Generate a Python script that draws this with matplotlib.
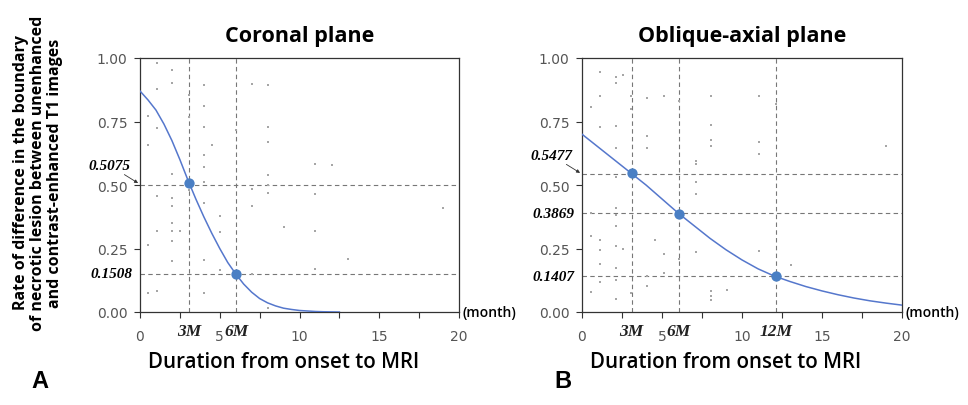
import matplotlib
matplotlib.use("Agg")
import matplotlib.pyplot as plt

# fitted curves
cor_x = [0, 0.5, 1, 1.5, 2, 2.5, 3, 3.5, 4, 4.5, 5, 5.5, 6, 6.5, 7, 7.5,
         8, 8.5, 9, 9.5, 10, 10.5, 11, 11.5, 12, 12.5]
cor_y = [0.870, 0.835, 0.795, 0.74, 0.675, 0.60, 0.52, 0.445, 0.375, 0.31,
         0.25, 0.195, 0.15, 0.11, 0.078, 0.053, 0.036, 0.024, 0.015, 0.010,
         0.006, 0.004, 0.002, 0.001, 0.0005, 0.0]
obl_x = [0, 1, 2, 3, 4, 5, 6, 7, 8, 9, 10, 11, 12, 13, 14, 15, 16, 17, 18, 19, 20]
obl_y = [0.70, 0.65, 0.60, 0.55, 0.50, 0.445, 0.39, 0.34, 0.29, 0.245, 0.205,
         0.17, 0.142, 0.12, 0.10, 0.083, 0.068, 0.055, 0.044, 0.035, 0.027]

# raw observations (gray dots)
cor_pts_x = [1.04, 2.03, 2.03, 1.04, 3.09, 4.0, 4.0, 3.1, 4.0, 4.5, 4.0, 4.0,
             0.48, 1.04, 0.48, 2.03, 1.04, 2.03, 2.03, 4.0, 4.0, 3.09, 5.0, 2.03,
             2.03, 2.5, 1.04, 5.0, 2.03, 0.48, 4.0, 2.03, 5.0, 0.48, 1.04, 4.0,
             7.04, 8.0, 8.0, 8.0, 6.0, 7.04, 8.0, 8.0, 8.0, 7.04, 9.04, 11.0,
             12.05, 11.0, 11.0, 11.0, 13.05, 7.04, 8.0, 19.0]
cor_pts_y = [0.98, 0.954, 0.90, 0.878, 0.854, 0.894, 0.812, 0.766, 0.727, 0.657,
             0.618, 0.569, 0.773, 0.723, 0.657, 0.543, 0.457, 0.447, 0.418, 0.43,
             0.51, 0.48, 0.376, 0.35, 0.319, 0.319, 0.319, 0.315, 0.28, 0.264,
             0.205, 0.20, 0.166, 0.076, 0.083, 0.076, 0.899, 0.894, 0.727, 0.668,
             0.717, 0.486, 0.539, 0.50, 0.47, 0.418, 0.335, 0.582, 0.578, 0.463,
             0.319, 0.171, 0.21, 0.148, 0.017, 0.411]
obl_pts_x = [1.1, 2.1, 2.1, 2.56, 1.15, 0.58, 1.1, 2.1, 2.1, 3.08, 3.08, 4.08,
             5.1, 6.06, 4.08, 4.08, 8.04, 8.04, 8.04, 8.04, 7.1, 7.1, 7.1, 7.1,
             11.06, 11.06, 11.06, 12.1, 19.0, 2.1, 0.58, 2.1, 2.1, 2.1, 0.58, 1.1,
             1.1, 2.1, 2.56, 4.54, 5.1, 7.1, 11.06, 13.08, 1.1, 2.1, 1.1, 2.1,
             4.08, 4.08, 5.1, 6.06, 0.58, 2.1, 8.04, 8.04, 8.04, 9.08, 3.08]
obl_pts_y = [0.943, 0.924, 0.90, 0.934, 0.849, 0.806, 0.727, 0.731, 0.644, 0.80,
             0.85, 0.842, 0.849, 0.832, 0.691, 0.644, 0.849, 0.737, 0.678, 0.652,
             0.595, 0.582, 0.512, 0.464, 0.849, 0.671, 0.622, 0.819, 0.652, 0.53,
             0.389, 0.411, 0.381, 0.339, 0.30, 0.284, 0.244, 0.26, 0.25, 0.284,
             0.227, 0.237, 0.24, 0.184, 0.188, 0.175, 0.118, 0.126, 0.142, 0.102,
             0.155, 0.208, 0.079, 0.05, 0.083, 0.063, 0.046, 0.087, 0.076]

# time points and predicted rates
cor_tx = [3.1, 6.05]
cor_ty = [0.5075, 0.1508]
cor_tlab = ["3M", "6M"]
obl_tx = [3.1, 6.05, 12.1]
obl_ty = [0.5477, 0.3869, 0.1407]
obl_tlab = ["3M", "6M", "12M"]

SANS = ["Open Sans", "DejaVu Sans"]
SERIF = ["Liberation Serif", "DejaVu Serif"]
CURVE = "#5577cc"
DOT = "#4a7fc4"

fig = plt.figure(figsize=(9.68, 4.06), dpi=100)


def panel(rect, title, cx, cy, px, py, tx, ty, tlab, hline_y, arrow_idx):
    ax = fig.add_axes(rect)
    ax.set_xlim(0, 20)
    ax.set_ylim(0, 1)
    ax.scatter(px, py, s=3.5, color="#a6a6a6", marker="s", lw=0, zorder=2)
    for x in tx:
        ax.axvline(x, color="#777777", ls=(0, (4, 3)), lw=0.8, zorder=1)
    for y in hline_y:
        ax.axhline(y, color="#777777", ls=(0, (4, 3)), lw=0.8, zorder=1)
    ax.plot(cx, cy, color=CURVE, lw=1.1, zorder=3)
    ax.scatter(tx, ty, s=55, color=DOT, zorder=4, lw=0)

    ax.set_xticks([0, 5, 10, 15, 20])
    ax.set_xticks([2.5, 7.5, 12.5, 17.5], minor=True)
    ax.set_yticks([0, 0.25, 0.5, 0.75, 1.0])
    ax.set_yticklabels(["0.00", "0.25", "0.50", "0.75", "1.00"])
    ax.tick_params(which="both", direction="out", length=4, width=0.8,
                   color="#333333", labelsize=10, labelcolor="#555555", pad=5)
    ax.tick_params(axis="x", pad=8)
    for s in ax.spines.values():
        s.set_color("#333333")
        s.set_linewidth(0.9)

    ax.set_title(title, fontsize=15.5, fontweight="bold", family=SANS, pad=12)
    ax.set_xlabel("Duration from onset to MRI", fontsize=14.8,
                  fontweight="semibold", family=SANS)
    ax.xaxis.set_label_coords(0.45, -0.155)
    ax.text(1.01, 0.0, "(month)", transform=ax.transAxes, ha="left",
            va="center", fontsize=10, fontweight="semibold", family=SANS)

    # month labels under the axis
    for x, lab in zip(tx, tlab):
        ax.text(x, -0.045, lab, transform=ax.get_xaxis_transform(),
                ha="center", va="top", fontsize=12.5, fontstyle="italic",
                fontweight="bold", family=SERIF, color="#222222")
    # predicted values to the left of the axis
    for i, y in enumerate(ty):
        lab = f"{y:.4f}"
        if i == arrow_idx:
            ax.annotate(lab, xy=(-0.006, y), xycoords=ax.get_yaxis_transform(),
                        xytext=(-0.03, y + 0.07),
                        textcoords=ax.get_yaxis_transform(),
                        ha="right", va="center", fontsize=11,
                        fontstyle="italic", fontweight="bold", family=SERIF,
                        arrowprops=dict(arrowstyle="-|>", lw=0.6,
                                        color="#333333", mutation_scale=5,
                                        shrinkA=0, shrinkB=0))
        else:
            ax.text(-0.025, y, lab, transform=ax.get_yaxis_transform(),
                    ha="right", va="center", fontsize=11, fontstyle="italic",
                    fontweight="bold", family=SERIF)
    return ax


panel([140 / 968, 93 / 406, 319 / 968, 254 / 406], "Coronal plane",
      cor_x, cor_y, cor_pts_x, cor_pts_y, cor_tx, cor_ty, cor_tlab,
      [0.5, 0.148], 0)
panel([582 / 968, 93 / 406, 320 / 968, 254 / 406], "Oblique-axial plane",
      obl_x, obl_y, obl_pts_x, obl_pts_y, obl_tx, obl_ty, obl_tlab,
      [0.5445, 0.39, 0.142], 0)

fig.text(38 / 968, 1 - 173 / 406,
         "Rate of difference in the boundary\n"
         "of necrotic lesion between unenhanced\n"
         "and contrast-enhanced T1 images",
         rotation=90, ha="center", va="center", multialignment="center",
         fontsize=11.5, fontweight="bold", family=SANS, linespacing=1.05)

fig.text(40 / 968, 1 - 382 / 406, "A", ha="center", va="center",
         fontsize=17, fontweight="bold", family=["Liberation Sans"])
fig.text(563 / 968, 1 - 382 / 406, "B", ha="center", va="center",
         fontsize=17, fontweight="bold", family=["Liberation Sans"])

fig.savefig("out.png", dpi=100)
